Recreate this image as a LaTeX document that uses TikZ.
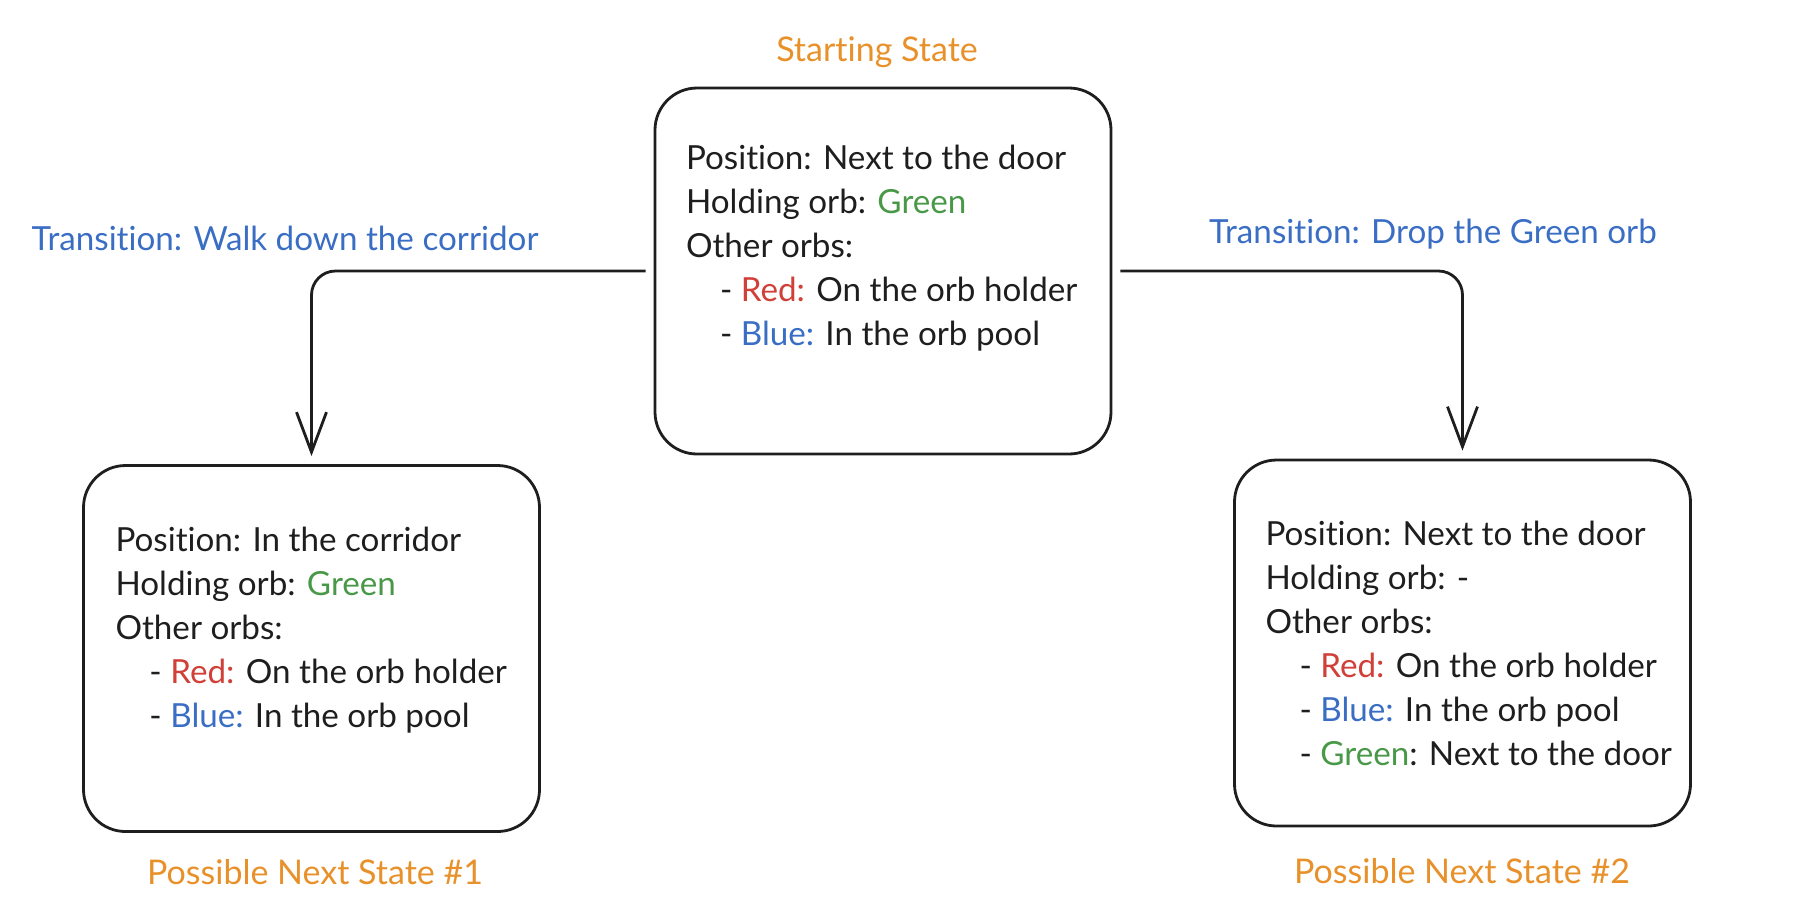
\documentclass[tikz,border=0pt]{standalone}
\usepackage{fontspec}
\setmainfont{Lato}[Ligatures={NoCommon,NoRequired}]
\usetikzlibrary{arrows.meta, positioning}
\definecolor{orborange}{RGB}{232,145,42}
\definecolor{orbblue}{RGB}{58,110,196}
\definecolor{orbred}{RGB}{208,64,56}
\definecolor{orbgreen}{RGB}{72,152,72}
\definecolor{ink}{RGB}{30,30,30}
\newcommand{\orbind}{\hspace*{17pt}- }

\begin{document}
\begin{tikzpicture}[
    x=0.5pt, y=-0.5pt,
    boks/.style = {rectangle, draw=ink, line width=1.4pt, rounded corners=21pt,
                   minimum width=228pt, minimum height=183pt},
    tekst/.style = {anchor=north west, align=left, inner sep=0pt, text=ink,
                    font=\fontsize{16.6}{22}\selectfont},
    pil/.style = {ink, line width=1.4pt, rounded corners=12pt,
                  -{Straight Barb[length=20pt,width=15pt]},
                  shorten <=4pt, shorten >=4pt},
    tittel/.style = {text=orborange, font=\fontsize{17}{20}\selectfont},
    overgang/.style = {text=orbblue, font=\fontsize{16.6}{20}\selectfont}
    ]

  \useasboundingbox (0,0) rectangle (1796,918);

  % tilstandene
  \node[boks] (start) at (883,271) {};
  \node[boks] (nxtone) at (311.5,648.5) {};
  \node[boks] (nxttwo) at (1462.5,643) {};

  \node[tekst] (starttxt) at ([shift={(32,58)}]start.north west)
    {Position: Next to the door\\
     Holding orb: \textcolor{orbgreen}{Green}\\
     Other orbs:\\
     \orbind\textcolor{orbred}{Red:} On the orb holder\\
     \orbind\textcolor{orbblue}{Blue:} In the orb pool};

  \node[tekst] (nxtonetxt) at ([shift={(33,63)}]nxtone.north west)
    {Position: In the corridor\\
     Holding orb: \textcolor{orbgreen}{Green}\\
     Other orbs:\\
     \orbind\textcolor{orbred}{Red:} On the orb holder\\
     \orbind\textcolor{orbblue}{Blue:} In the orb pool};

  \node[tekst] (nxttwotxt) at ([shift={(32,62)}]nxttwo.north west)
    {Position: Next to the door\\
     Holding orb: -\\
     Other orbs:\\
     \orbind\textcolor{orbred}{Red:} On the orb holder\\
     \orbind\textcolor{orbblue}{Blue:} In the orb pool\\
     \orbind\textcolor{orbgreen}{Green}: Next to the door};

  % titler
  \node[tittel] (starttittel) at (877,52) {Starting State};
  \node[tittel] (nxtonetittel) at (315,872) {Possible Next State \#1};
  \node[tittel] (nxttwotittel) at (1462,871) {Possible Next State \#2};

  \node[overgang] (walk) at (285,238) {Transition: Walk down the corridor};
  \node[overgang] (drop) at (1433,234) {Transition: Drop the Green orb};

  \draw[pil] (start.west) -| (nxtone.north);
  \draw[pil] (start.east) -| (nxttwo.north);

\end{tikzpicture}
\end{document}
